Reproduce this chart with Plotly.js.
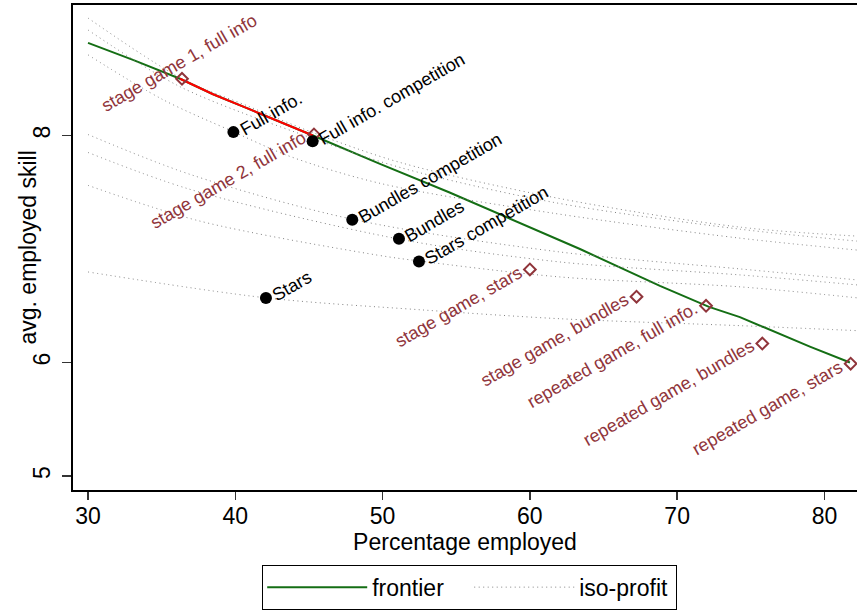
<!DOCTYPE html>
<html><head><meta charset="utf-8">
<script src="https://cdn.plot.ly/plotly-3.0.1.min.js"></script>
<style>html,body{margin:0;padding:0;background:#fff}</style>
</head><body>
<div id="chart" style="width:857px;height:610px"></div>
<script>
// Frontier
const frontierX = [30.0, 33.05, 36.25, 38.49, 40.79, 43.03, 45.27, 49.82, 54.51, 63.40, 68.83, 72.16, 74.26, 79.01, 81.73];
const frontierY = [8.816, 8.667, 8.50, 8.364, 8.241, 8.123, 8.0, 7.75, 7.50, 7.00, 6.675, 6.49, 6.40, 6.14, 6.0];
// Red (full-info) segment of the frontier
const fullInfoX = [36.25, 38.49, 40.79, 43.03, 45.27];
const fullInfoY = [8.50, 8.364, 8.241, 8.123, 8.0];

// Iso-profit curves
const iso1X = [30.0, 36.38, 40.79, 45.27, 51.18, 61.57, 74.26, 82.21];
const iso1Y = [9.035, 8.50, 8.263, 8.026, 7.763, 7.456, 7.193, 7.114];
const iso2X = [30.0, 36.25, 45.27, 51.18, 61.57, 74.26, 82.21];
const iso2Y = [8.930, 8.430, 7.974, 7.719, 7.412, 7.175, 7.070];
const iso3X = [30.0, 35.09, 39.84, 43.71, 49.82, 61.57, 74.26, 82.21];
const iso3Y = [8.711, 8.316, 8.035, 7.816, 7.579, 7.316, 7.096, 6.991];
const iso4X = [30.0, 36.92, 47.92, 62.04, 74.26, 82.21];
const iso4Y = [8.009, 7.658, 7.263, 6.974, 6.825, 6.728];
const iso5X = [30.0, 36.92, 51.11, 62.04, 74.26, 82.21];
const iso5Y = [7.851, 7.526, 7.088, 6.886, 6.772, 6.684];
const iso6X = [30.0, 37.60, 49.62, 52.47, 62.04, 74.26, 82.21];
const iso6Y = [7.561, 7.246, 6.947, 6.895, 6.754, 6.667, 6.570];
const iso7X = [30.0, 42.08, 52.54, 62.04, 74.26, 82.21];
const iso7Y = [6.798, 6.570, 6.465, 6.386, 6.325, 6.281];

// Game predictions (hollow diamonds)
const gameLabels = ["stage game 1, full info", "stage game 2, full info", "stage game, stars", "stage game, bundles", "repeated game, full info.", "repeated game, bundles", "repeated game, stars"];
const gameX = [36.38, 45.34, 60.0, 67.24, 71.96, 75.78, 81.78];
const gameY = [8.50, 8.01, 6.82, 6.58, 6.50, 6.167, 5.99];

// Observed treatments (black dots)
const obsLabels = ["Full info.", "Full info. competition", "Bundles competition", "Bundles", "Stars competition", "Stars"];
const obsX = [39.87, 45.25, 47.94, 51.11, 52.47, 42.08];
const obsY = [8.03, 7.95, 7.257, 7.09, 6.89, 6.568];

// Axis ticks
const xTicks = [30, 40, 50, 60, 70, 80];
const yTicks = [5, 6, 8];

const FONT = "Liberation Sans, Arial, Helvetica, sans-serif";
const GREEN = "rgb(20,110,20)";
const CRAN = "rgb(144,53,59)";
const DOTC = "rgb(130,130,130)";

const isoSets = [[iso1X, iso1Y], [iso2X, iso2Y], [iso3X, iso3Y], [iso4X, iso4Y], [iso5X, iso5Y], [iso6X, iso6Y], [iso7X, iso7Y]];
const traces = [];
traces.push({x: frontierX, y: frontierY, mode: "lines", name: "frontier", line: {color: GREEN, width: 2}, showlegend: true, hoverinfo: "skip"});
isoSets.forEach((s, i) => {
  traces.push({x: s[0], y: s[1], mode: "lines", name: "iso-profit", legendgroup: "iso",
    showlegend: i === 0, line: {color: DOTC, width: 1, dash: "1px,3.5px", shape: "spline", smoothing: 0.9}, hoverinfo: "skip"});
});
traces.push({x: fullInfoX, y: fullInfoY, mode: "lines", line: {color: "rgb(255,0,0)", width: 2}, showlegend: false, hoverinfo: "skip"});
traces.push({x: gameX, y: gameY, mode: "markers", marker: {symbol: "diamond-open", size: 9, color: CRAN, line: {width: 2, color: CRAN}}, showlegend: false, hoverinfo: "skip"});
traces.push({x: obsX, y: obsY, mode: "markers", marker: {symbol: "circle", size: 12, color: "black"}, showlegend: false, hoverinfo: "skip"});

const annotations = [];
obsLabels.forEach((t, i) => {
  annotations.push({x: obsX[i], y: obsY[i], xref: "x", yref: "y", text: t, showarrow: false,
    textangle: -30, xanchor: "left", yanchor: "bottom", xshift: 0, yshift: -10,
    font: {family: FONT, size: 18, color: "black"}});
});
gameLabels.forEach((t, i) => {
  const a = {x: gameX[i], y: gameY[i], xref: "x", yref: "y", text: t, showarrow: false,
    textangle: -30, xanchor: "right", yanchor: "top", xshift: -2, yshift: 10,
    font: {family: FONT, size: 18, color: CRAN}};
  if (i === 0) { a.xanchor = "center"; a.yanchor = "middle"; a.xshift = -3; a.yshift = 16; }
  annotations.push(a);
});
// y-axis title
annotations.push({xref: "paper", yref: "paper", x: -0.0574, y: 0.5, xanchor: "center", yanchor: "middle",
  text: "avg. employed skill", textangle: -90, showarrow: false, font: {family: FONT, size: 23, color: "black"}});

const layout = {
  width: 857, height: 610,
  margin: {l: 73, r: 0, t: 5, b: 117},
  paper_bgcolor: "white", plot_bgcolor: "white",
  font: {family: FONT, size: 23, color: "black"},
  showlegend: true,
  legend: {orientation: "h", x: 0.506, xanchor: "center", y: -0.154, yanchor: "top",
    bordercolor: "black", borderwidth: 1, font: {family: FONT, size: 23, color: "black"},
    itemwidth: 100, entrywidth: 92, entrywidthmode: "pixels", tracegroupgap: 0},
  xaxis: {range: [28.98, 82.21], tickvals: xTicks, ticktext: xTicks.map(String),
    showgrid: false, zeroline: false, showline: true, mirror: true, linecolor: "black", linewidth: 2,
    ticks: "outside", ticklen: 8, tickwidth: 1.5, tickcolor: "#333", ticklabelstandoff: -4,
    tickfont: {family: FONT, size: 23, color: "black"},
    title: {text: "Percentage employed", font: {family: FONT, size: 23, color: "black"}, standoff: 6}},
  yaxis: {range: [4.877, 9.15], tickvals: yTicks, ticktext: yTicks.map(String), tickangle: -90,
    showgrid: false, zeroline: false, showline: true, mirror: false, linecolor: "black", linewidth: 2,
    ticks: "outside", ticklen: 9, tickwidth: 1.5, tickcolor: "#333", ticklabelstandoff: 3,
    tickfont: {family: FONT, size: 23, color: "black"}},
  annotations: annotations
};

Plotly.newPlot("chart", traces, layout, {displayModeBar: false, staticPlot: true});
</script>
</body></html>
